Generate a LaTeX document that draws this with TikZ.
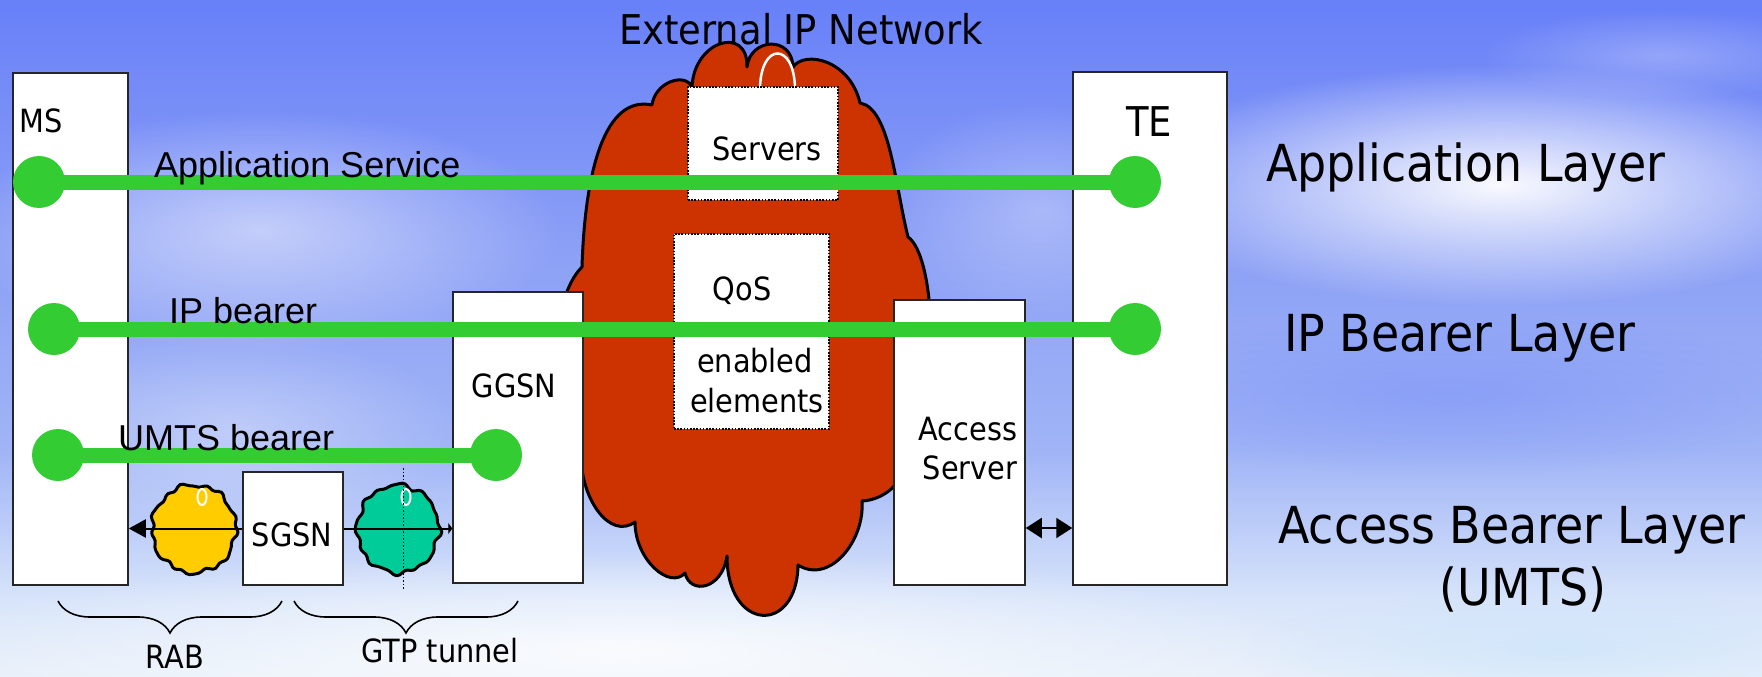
\documentclass[tikz,border=0pt]{standalone}
\usepackage{fontspec}
\setmainfont{Liberation Sans}
\newfontfamily\tahoma[FakeStretch=0.9]{DejaVu Sans}
\usetikzlibrary{arrows.meta,decorations.pathreplacing,fadings}

\definecolor{skyA}{RGB}{104,128,248}
\definecolor{skyB}{RGB}{140,160,246}
\definecolor{skyC}{RGB}{160,180,246}
\definecolor{skyD}{RGB}{215,228,250}
\definecolor{skyE}{RGB}{232,240,250}
\definecolor{bearergreen}{RGB}{51,204,51}
\definecolor{netred}{RGB}{204,51,0}
\definecolor{raryellow}{RGB}{255,204,0}
\definecolor{gtpgreen}{RGB}{0,204,153}
\definecolor{midblue}{RGB}{118,142,246}
\definecolor{paleblue}{RGB}{200,228,250}

\pgfdeclareverticalshading{skyfade}{100bp}{color(0bp)=(skyE); color(25bp)=(skyE);
  color(30.7bp)=(skyD); color(41.8bp)=(skyC); color(56.5bp)=(skyB);
  color(75bp)=(skyA); color(100bp)=(skyA)}
\tikzfading[name=softblob, inner color=transparent!0, outer color=transparent!100]

\begin{document}
\begin{tikzpicture}[x=1pt, y=-1pt,
  box/.style={draw=black!85, line width=1.5pt, fill=white, inner sep=0pt},
  dotbox/.style={draw=black, line width=1.6pt, dash pattern=on 1.6pt off 1.6pt, fill=white, inner sep=0pt},
  bearer/.style={draw=bearergreen, line width=15pt},
  endpoint/.style={circle, fill=bearergreen, minimum size=52pt, inner sep=0pt},
  tlabel/.style={font=\tahoma\fontsize{32}{36}\selectfont, inner sep=0pt},
  blabel/.style={font=\fontsize{36}{40}\selectfont, inner sep=0pt},
  layerlabel/.style={font=\tahoma\fontsize{51}{56}\selectfont, inner sep=0pt},
  link/.style={draw=black, line width=2pt},
  blob/.style={path fading=softblob},
  bubble/.style={draw=black, line width=3pt, line join=round},
  tunnelbrace/.style={draw=black, line width=1.6pt, decorate, decoration={brace, mirror, amplitude=32pt}},
]
\useasboundingbox (0,0) rectangle (1762,677);

% sky
\shade[shading=skyfade] (0,0) rectangle (1762,677);
\fill[white, opacity=0.95, blob] (1500,185) ellipse [x radius=380, y radius=120];
\fill[white, opacity=0.25, blob] (1660,55) ellipse [x radius=180, y radius=45];
\fill[white, opacity=0.5, blob] (260,230) ellipse [x radius=300, y radius=120];
\fill[white, opacity=0.35, blob] (230,430) ellipse [x radius=230, y radius=100];
\fill[white, opacity=0.3, blob] (1040,210) ellipse [x radius=160, y radius=110];
\fill[midblue, opacity=0.45, blob] (1450,395) ellipse [x radius=380, y radius=80];
\fill[white, opacity=0.8, blob] (620,650) ellipse [x radius=720, y radius=100];
\fill[paleblue, opacity=0.6, blob] (1560,650) ellipse [x radius=320, y radius=60];

% external IP network cloud
\path[fill=netred, draw=black, line width=3pt, line join=round]
  (581,458)
  .. controls (545,420) and (548,300) .. (582,267)
  .. controls (585,170) and (605,95) .. (652,105)
  .. controls (655,82) and (685,72) .. (692,87)
  .. controls (694,40) and (748,25) .. (747,67)
  .. controls (750,38) and (792,35) .. (793,67)
  .. controls (805,50) and (850,60) .. (860,103)
  .. controls (890,108) and (895,185) .. (908,237)
  .. controls (935,255) and (945,400) .. (898,470)
  .. controls (905,480) and (885,500) .. (862,501)
  .. controls (865,540) and (830,585) .. (798,565)
  .. controls (797,635) and (727,632) .. (727,556)
  .. controls (722,590) and (690,595) .. (685,573)
  .. controls (670,590) and (635,560) .. (635,522)
  .. controls (610,540) and (582,500) .. (581,458)
  -- cycle;
\draw[white, line width=2.5pt] (760,88) .. controls (761,42) and (794,42) .. (795,88);

% network elements
\node[dotbox, minimum width=150pt, minimum height=113pt] (servers) at (763,143.5) {};
\node[dotbox, minimum width=155pt, minimum height=195pt] (qos) at (751.5,331.5) {};
\node[box, minimum width=115pt, minimum height=512pt] (ms) at (70.5,329) {};
\node[box, minimum width=154pt, minimum height=513pt] (te) at (1150,328.5) {};
\node[box, minimum width=130pt, minimum height=291pt] (ggsn) at (518,437.5) {};
\node[box, minimum width=131pt, minimum height=285pt] (acc) at (959.5,442.5) {};
\node[box, minimum width=100pt, minimum height=113pt] (sgsn) at (293,528.5) {};

% radio and GTP clouds
\path[bubble, fill=raryellow] plot[smooth cycle, samples=90, domain=0:356]
  ({194+(42+1.1*sin(13*\x)+1.3*cos(7*\x+40)+0.8*sin(19*\x))*cos(\x)},
   {529+(44+1.1*sin(13*\x)+1.3*cos(7*\x+40)+0.8*sin(19*\x))*sin(\x)});
\path[bubble, fill=gtpgreen] plot[smooth cycle, samples=90, domain=0:356]
  ({398+(41+1.1*sin(12*\x+30)+1.3*cos(8*\x)+0.8*sin(17*\x))*cos(\x)},
   {529+(44+1.1*sin(12*\x+30)+1.3*cos(8*\x)+0.8*sin(17*\x))*sin(\x)});
\draw[white, line width=2pt] (202,497) ellipse [x radius=4.5, y radius=8];
\draw[white, line width=2pt] (406,497) ellipse [x radius=4.5, y radius=8];
\coordinate (gtp-top) at (403,468);
\coordinate (gtp-bot) at (403,589);
\draw[black, line width=1pt, dash pattern=on 1.5pt off 2pt] (gtp-top) -- (gtp-bot);

% access links
\draw[link, -{Triangle[length=17pt,width=18pt]}] (sgsn.west) -- (sgsn.west -| ms.east);
\draw[link, -{Triangle[length=4pt,width=11pt]}] (sgsn.east) -- (sgsn.east -| ggsn.west);
\coordinate (acc-link) at (1045,528);
\draw[link, {Triangle[length=16pt,width=20pt]}-{Triangle[length=16pt,width=20pt]}]
  (acc-link -| acc.east) -- (acc-link -| te.west);

% bearers
\node[endpoint] (app-l) at (39,182) {};
\node[endpoint] (app-r) at (1135,182) {};
\node[endpoint] (ip-l) at (54,329) {};
\node[endpoint] (ip-r) at (1135,329) {};
\node[endpoint] (umts-l) at (58,455) {};
\node[endpoint] (umts-r) at (496,455) {};
\draw[bearer] (app-l.center) -- (app-r.center);
\draw[bearer] (ip-l.center) -- (ip-r.center);
\draw[bearer] (umts-l.center) -- (umts-r.center);

% labels
\node[tlabel, font=\tahoma\fontsize{41}{46}\selectfont, anchor=base] (ext-t) at (801,45) {External IP Network};
\node[tlabel, anchor=base west] (ms-t) at (19,132) {MS};
\node[tlabel, font=\tahoma\fontsize{41}{46}\selectfont, anchor=base] (te-t) at (1149,136) {TE};
\node[tlabel, anchor=base] (servers-t) at (767,160) {Servers};
\node[tlabel, anchor=base] (qos-t) at (742,300) {QoS};
\node[tlabel, anchor=base] (qos-t2) at (755,372) {enabled};
\node[tlabel, anchor=base] (qos-t3) at (757,412) {elements};
\node[tlabel, anchor=base] (ggsn-t) at (514,397) {GGSN};
\node[tlabel, anchor=base] (acc-t) at (968,440) {Access};
\node[tlabel, anchor=base] (acc-t2) at (970,479) {Server};
\node[tlabel, anchor=base] (sgsn-t) at (292,546) {SGSN};

\node[blabel, anchor=base west] (app-t) at (154,177) {Application Service};
\node[blabel, anchor=base west] (ip-t) at (169,323) {IP bearer};
\node[blabel, anchor=base west] (umts-t) at (118,450) {UMTS bearer};

\node[layerlabel, anchor=base west] (lay1) at (1266,181) {Application Layer};
\node[layerlabel, anchor=base west] (lay2) at (1284,351) {IP Bearer Layer};
\node[layerlabel, anchor=base west] (lay3) at (1278,543) {Access Bearer Layer};
\node[layerlabel, anchor=base] (lay3b) at (1523,605) {(UMTS)};

% braces
\coordinate (rab-l) at (58,601);
\coordinate (rab-r) at (282,601);
\coordinate (gtp-l) at (294,601);
\coordinate (gtp-r) at (518,601);
\draw[tunnelbrace] (rab-l) -- (rab-r);
\draw[tunnelbrace] (gtp-l) -- (gtp-r);
\node[tlabel, anchor=base] (rab-t) at (175,668) {RAB};
\node[tlabel, anchor=base] (gtp-t) at (440,662) {GTP tunnel};
\end{tikzpicture}
\end{document}
